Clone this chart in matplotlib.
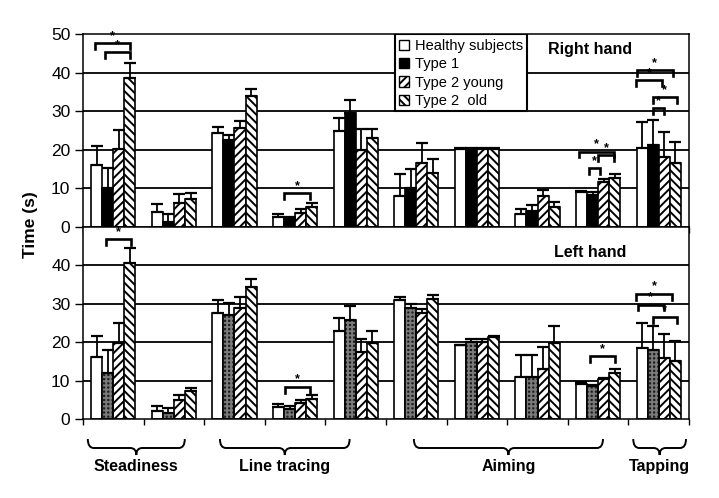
import numpy as np
import matplotlib
matplotlib.use('Agg')
import matplotlib.pyplot as plt
from matplotlib.patches import Patch, Rectangle, PathPatch
from matplotlib.path import Path
from matplotlib.transforms import blended_transform_factory

plt.rcParams['font.family'] = ['Liberation Sans', 'DejaVu Sans']
plt.rcParams['hatch.linewidth'] = 1.4

groups = ['Healthy subjects', 'Type 1', 'Type 2 young', 'Type 2  old']

# Right hand (top panel): bar heights and top of error bars
right_healthy = [16.1, 3.9, 24.3, 2.5, 24.9, 8.0, 20.2, 3.3, 9.0, 20.4]
right_healthy_top = [21.0, 5.9, 26.0, 3.3, 28.3, 13.6, 20.4, 4.7, 9.3, 27.3]
right_type1 = [10.1, 1.2, 22.5, 2.0, 29.5, 10.0, 20.2, 4.2, 8.3, 21.2]
right_type1_top = [15.3, 3.3, 23.8, 2.6, 32.9, 15.0, 20.4, 5.7, 9.0, 27.7]
right_young = [20.2, 6.1, 25.7, 3.5, 20.0, 16.5, 20.2, 8.1, 11.7, 18.2]
right_young_top = [25.1, 8.5, 27.5, 4.6, 25.3, 21.8, 20.4, 9.6, 12.4, 24.5]
right_old = [38.7, 7.2, 34.0, 5.3, 23.1, 13.9, 20.2, 5.1, 12.6, 16.7]
right_old_top = [42.6, 8.7, 35.7, 6.3, 25.3, 17.5, 20.4, 6.6, 13.7, 21.9]

# Left hand (bottom panel)
left_healthy = [16.2, 2.2, 27.7, 3.1, 22.9, 30.9, 19.2, 11.0, 9.0, 18.5]
left_healthy_top = [21.6, 3.4, 30.9, 4.0, 26.3, 31.9, 19.4, 16.6, 9.7, 24.9]
left_type1 = [12.1, 1.6, 27.0, 2.7, 25.9, 28.9, 20.1, 11.0, 8.6, 18.1]
left_type1_top = [17.9, 2.8, 30.3, 3.4, 29.3, 30.0, 20.9, 16.6, 8.9, 24.2]
left_young = [19.8, 5.0, 29.0, 4.1, 17.5, 27.7, 20.1, 12.9, 10.5, 15.9]
left_young_top = [25.0, 6.3, 31.9, 5.0, 20.9, 28.7, 20.9, 18.8, 10.8, 22.2]
left_old = [40.5, 7.2, 34.3, 5.3, 19.8, 31.3, 21.3, 19.8, 12.0, 15.0]
left_old_top = [44.4, 8.2, 36.5, 6.3, 22.8, 32.3, 21.5, 24.2, 12.9, 20.2]

# significance brackets: (category, left offset, right offset, height)
right_brackets = [(0, -0.30, 0.28, 47.6), (0, -0.14, 0.28, 45.3), (3, -0.18, 0.25, 8.7),
                  (8, -0.32, 0.26, 19.5), (8, 0.0, 0.26, 18.6), (8, -0.15, 0.03, 15.2),
                  (9, -0.36, 0.23, 40.7), (9, -0.37, 0.06, 38.1), (9, -0.10, 0.30, 33.6),
                  (9, -0.10, 0.09, 30.7)]
left_brackets = [(0, -0.12, 0.30, 46.8), (3, -0.16, 0.24, 8.4), (8, -0.14, 0.28, 16.3),
                 (9, -0.37, 0.22, 32.6), (9, -0.34, 0.08, 29.8), (9, -0.10, 0.30, 26.5)]

task_labels = ['Steadiness', 'Line tracing', 'Aiming', 'Tapping']
task_spans = [(-0.42, 1.18), (1.76, 3.90), (4.96, 8.08), (8.58, 9.45)]

n_cat = len(right_healthy)
cats = np.arange(n_cat)
w = 0.183

fig = plt.figure(figsize=(7.19, 4.98), dpi=100)
ax_top = fig.add_axes([0.1154, 0.5442, 0.8429, 0.3876])
ax_bot = fig.add_axes([0.1154, 0.1586, 0.8429, 0.3856])


def draw_panel(ax, series, tops, brackets, type1_style):
    ax.set_xlim(-0.5, n_cat - 0.5)
    ax.set_ylim(0, 50)
    for gy in [10, 20, 30, 40]:
        ax.axhline(gy, color='black', lw=1.3, zorder=0)
    styles = [dict(facecolor='white', edgecolor='black'),
              type1_style,
              dict(facecolor='white', edgecolor='black', hatch='////'),
              dict(facecolor='white', edgecolor='black', hatch='\\\\\\\\')]
    for k in range(4):
        x = cats + (k - 1.5) * w
        vals = np.array(series[k])
        st = styles[k]
        if st.get('dotted'):
            # dark dotted fill for Type 1 on the left hand
            ax.bar(x, vals, w, facecolor='#1c1c1c', edgecolor='#7a7a7a', hatch='++++',
                   lw=0, zorder=2)
            ax.bar(x, vals, w, facecolor='none', edgecolor='black', lw=1.2, zorder=3)
        else:
            ax.bar(x, vals, w, lw=1.2, zorder=2, **st)
        err = np.array(tops[k]) - vals
        ax.errorbar(x, vals, yerr=[np.zeros(n_cat), err], fmt='none', ecolor='black',
                    elinewidth=1.3, capsize=4, capthick=1.6, zorder=4)
    for c, o0, o1, y in brackets:
        x0, x1 = c + o0, c + o1
        ax.plot([x0, x0, x1, x1], [y - 1.5, y, y, y - 1.5], color='black', lw=1.9,
                solid_joinstyle='miter', zorder=6)
        ax.text((x0 + x1) / 2, y + 0.3, '*', ha='center', va='bottom', fontsize=9,
                fontweight='bold', zorder=6)
    ax.set_xticks(np.arange(n_cat + 1) - 0.5)
    ax.set_xticklabels([])
    ax.tick_params(axis='x', direction='out', length=4, width=1)
    ax.tick_params(axis='y', direction='out', length=6, width=1, labelsize=12.5, pad=3)
    for s in ax.spines.values():
        s.set_linewidth(1.1)


draw_panel(ax_top, [right_healthy, right_type1, right_young, right_old],
           [right_healthy_top, right_type1_top, right_young_top, right_old_top],
           right_brackets, dict(facecolor='black', edgecolor='black'))
ax_top.set_yticks([0, 10, 20, 30, 40, 50])

draw_panel(ax_bot, [left_healthy, left_type1, left_young, left_old],
           [left_healthy_top, left_type1_top, left_young_top, left_old_top],
           left_brackets, dict(dotted=True))
ax_bot.set_yticks([0, 10, 20, 30, 40])

# legend box in the top panel
ax_top.add_patch(Rectangle((0.515, 0.6), 0.218, 0.4, transform=ax_top.transAxes,
                           facecolor='white', edgecolor='black', lw=1.5, zorder=5))
handles = [Patch(facecolor='white', edgecolor='black', lw=1),
           Patch(facecolor='black', edgecolor='black', lw=1),
           Patch(facecolor='white', edgecolor='black', hatch='////', lw=1),
           Patch(facecolor='white', edgecolor='black', hatch='\\\\\\\\', lw=1)]
leg = ax_top.legend(handles, groups, loc='upper left', bbox_to_anchor=(0.517, 0.99),
                    frameon=False, fontsize=10.5, handlelength=0.7, handleheight=0.7,
                    handletextpad=0.4, labelspacing=0.3, borderaxespad=0, borderpad=0.2)
leg.set_zorder(7)

ax_top.text(0.837, 0.92, 'Right hand', transform=ax_top.transAxes, ha='center',
            va='center', fontsize=11.5, fontweight='bold', zorder=7)
ax_bot.text(0.837, 0.865, 'Left hand', transform=ax_bot.transAxes, ha='center',
            va='center', fontsize=11.5, fontweight='bold', zorder=7)

fig.text(0.042, 0.548, 'Time (s)', rotation=90, ha='center', va='center',
         fontsize=12.5, fontweight='bold')

# curly braces under the tasks
trans = blended_transform_factory(ax_bot.transData, fig.transFigure)
y_end = 1 - 439 / 498
y_mid = 1 - 448 / 498
y_tip = 1 - 455 / 498
r = 0.1
for label, (x0, x1) in zip(task_labels, task_spans):
    xc = (x0 + x1) / 2
    verts = [(x0, y_end), (x0, y_mid), (x0 + r, y_mid), (xc - r, y_mid),
             (xc, y_mid), (xc, y_tip), (xc, y_mid), (xc + r, y_mid),
             (x1 - r, y_mid), (x1, y_mid), (x1, y_end)]
    codes = [Path.MOVETO, Path.CURVE3, Path.CURVE3, Path.LINETO,
             Path.CURVE3, Path.CURVE3, Path.CURVE3, Path.CURVE3,
             Path.LINETO, Path.CURVE3, Path.CURVE3]
    fig.add_artist(PathPatch(Path(verts, codes), transform=trans, facecolor='none',
                             edgecolor='black', lw=1.4, clip_on=False))
    fig.text(xc, 1 - 466 / 498, label, transform=trans, ha='center', va='center',
             fontsize=11.5, fontweight='bold')

fig.savefig('out.png', dpi=100)
